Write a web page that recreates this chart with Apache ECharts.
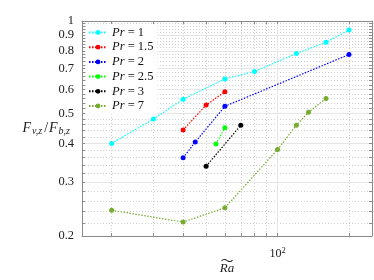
<!DOCTYPE html>
<html>
<head>
<meta charset="utf-8">
<script src="https://cdn.jsdelivr.net/npm/echarts@6/dist/echarts.min.js"></script>
<style>html,body{margin:0;padding:0;background:#fff}#c{width:374px;height:280px}</style>
</head>
<body>
<div id="c"></div>
<script>
// ---- data ----
var raPr1  = [20, 30, 40, 60, 80, 120, 160, 200];
var valPr1 = [0.400, 0.480, 0.557, 0.648, 0.685, 0.784, 0.853, 0.934];
var raPr15  = [40, 50, 60];
var valPr15 = [0.442, 0.533, 0.589];
var raPr2  = [40, 45, 60, 200];
var valPr2 = [0.359, 0.404, 0.528, 0.778];
var raPr25  = [55, 60];
var valPr25 = [0.398, 0.450];
var raPr3  = [50, 70];
var valPr3 = [0.337, 0.458];
var raPr7  = [20, 40, 60, 100, 120, 135, 160];
var valPr7 = [0.2425, 0.222, 0.247, 0.382, 0.458, 0.505, 0.560];

var seriesNames = ['Pr = 1', 'Pr = 1.5', 'Pr = 2', 'Pr = 2.5', 'Pr = 3', 'Pr = 7'];
var seriesColors = ['#00ffff', '#ff0000', '#0000ff', '#00ff00', '#000000', '#77ac30'];

// tick values
var xTickVals = [20, 30, 40, 50, 60, 70, 80, 90, 100, 200];
var xLabelVals = [100];
var yLabelVals = [0.2, 0.3, 0.4, 0.5, 0.6, 0.7, 0.8, 0.9, 1];
var yMajorGrid = [0.3, 0.4, 0.5, 0.6, 0.7, 0.8, 0.9];
var yTickVals = [0.2, 0.22, 0.24, 0.26, 0.28, 0.3, 0.32, 0.34, 0.36, 0.38, 0.4,
  0.42, 0.44, 0.46, 0.48, 0.5, 0.52, 0.54, 0.56, 0.58, 0.6, 0.62, 0.64, 0.66, 0.68, 0.7,
  0.72, 0.74, 0.76, 0.78, 0.8, 0.82, 0.84, 0.86, 0.88, 0.9, 0.92, 0.94, 0.96, 0.98, 1];

var xs = [raPr1, raPr15, raPr2, raPr25, raPr3, raPr7];
var ys = [valPr1, valPr15, valPr2, valPr25, valPr3, valPr7];

var SERIF = '"Liberation Serif", "DejaVu Serif", serif';
var axisCol = '#8a8a8a';
var dotGrid = { show: true, lineStyle: { color: '#cfcfcf', width: 1, type: [1, 2] } };

var series = seriesNames.map(function (n, i) {
  return {
    name: n, type: 'line', xAxisIndex: 0, yAxisIndex: 0,
    data: xs[i].map(function (x, j) { return [x, ys[i][j]]; }),
    symbol: 'circle', symbolSize: 5,
    itemStyle: { color: seriesColors[i] },
    lineStyle: { color: seriesColors[i], width: 1.2, type: [1.5, 1.5] },
    emphasis: { disabled: true }, animation: false
  };
});

var baseX = { type: 'log', logBase: 10, min: 15, max: 250, gridIndex: 0, nameMoveOverlap: false };
var baseY = { type: 'log', logBase: 10, min: 0.2, max: 1, gridIndex: 0, nameMoveOverlap: false };

var option = {
  backgroundColor: '#fff',
  animation: false,
  grid: { left: 82, right: 2, top: 21, bottom: 40, containLabel: false },
  legend: {
    left: 86, top: 24, orient: 'vertical',
    padding: [2, 4, 2, 2], backgroundColor: '#fff',
    itemWidth: 18, itemHeight: 6, itemGap: 1.7,
    data: seriesNames,
    formatter: function (n) { return '{i|Pr}' + n.slice(2); },
    textStyle: { fontFamily: SERIF, fontSize: 12.5, lineHeight: 12, color: '#111',
      rich: { i: { fontFamily: SERIF, fontStyle: 'italic', fontSize: 12.5, color: '#111' } } }
  },
  xAxis: [
    Object.assign({}, baseX, {
      position: 'bottom',
      axisLine: { show: true, onZero: false, lineStyle: { color: axisCol, width: 1 } },
      axisTick: { show: true, inside: true, length: 3, customValues: xTickVals, lineStyle: { color: axisCol } },
      axisLabel: { show: true, customValues: xLabelVals, margin: 10,
        formatter: function () { return '{b|10}{s|2}'; },
        rich: { b: { fontFamily: SERIF, fontSize: 12, color: '#222', lineHeight: 14, verticalAlign: 'bottom' },
                s: { fontFamily: SERIF, fontSize: 8.5, color: '#222', lineHeight: 14, verticalAlign: 'top' } } },
      splitLine: dotGrid,
      name: '{t|～}\n{r|Ra}', nameLocation: 'middle', nameGap: 22,
      nameTextStyle: { rich: {
        t: { fontFamily: '"Noto Sans CJK SC"', fontSize: 13, lineHeight: 4, color: '#222', align: 'center' },
        r: { fontFamily: SERIF, fontStyle: 'italic', fontSize: 13, lineHeight: 13, color: '#222', align: 'center' } } }
    }),
    Object.assign({}, baseX, {
      position: 'top',
      axisLine: { show: true, onZero: false, lineStyle: { color: axisCol, width: 1 } },
      axisTick: { show: true, inside: true, length: 3, customValues: xTickVals, lineStyle: { color: axisCol } },
      axisLabel: { show: false }, splitLine: { show: false }
    }),
    Object.assign({}, baseX, {
      position: 'bottom',
      axisLine: { show: false }, axisTick: { show: false, customValues: xLabelVals },
      axisLabel: { show: false },
      splitLine: { show: true, lineStyle: { color: '#e6e6e6', width: 1, type: 'solid' } }
    })
  ],
  yAxis: [
    Object.assign({}, baseY, {
      position: 'left',
      axisLine: { show: true, onZero: false, lineStyle: { color: axisCol, width: 1 } },
      axisTick: { show: true, inside: true, length: 3, customValues: yTickVals, lineStyle: { color: axisCol } },
      axisLabel: { show: true, customValues: yLabelVals, margin: 8,
        fontFamily: SERIF, fontSize: 12.5, color: '#222',
        formatter: function (v) { return String(+(+v).toFixed(2)); } },
      splitLine: dotGrid,
      name: '{f|F}{s|v,z}{n|/}{f|F}{s|b,z}', nameLocation: 'middle', nameRotate: 0, nameGap: 12,
      nameTextStyle: { align: 'right', rich: {
        f: { fontFamily: SERIF, fontStyle: 'italic', fontSize: 14, color: '#222', lineHeight: 16, verticalAlign: 'middle' },
        n: { fontFamily: SERIF, fontSize: 14, color: '#222', lineHeight: 16, verticalAlign: 'middle', padding: [0, 1, 0, 2] },
        s: { fontFamily: SERIF, fontStyle: 'italic', fontSize: 10, color: '#222', lineHeight: 16, verticalAlign: 'bottom', padding: [0, 0, 0, 1] } } }
    }),
    Object.assign({}, baseY, {
      position: 'right',
      axisLine: { show: true, onZero: false, lineStyle: { color: axisCol, width: 1 } },
      axisTick: { show: true, inside: true, length: 3, customValues: yTickVals, lineStyle: { color: axisCol } },
      axisLabel: { show: false }, splitLine: { show: false }
    }),
    Object.assign({}, baseY, {
      position: 'left',
      axisLine: { show: false }, axisTick: { show: false, customValues: yMajorGrid },
      axisLabel: { show: false },
      splitLine: { show: true, lineStyle: { color: '#e6e6e6', width: 1, type: 'solid' } }
    })
  ],
  series: series
};

var chart = echarts.init(document.getElementById('c'), null, { renderer: 'canvas' });
chart.setOption(option);
</script>
</body>
</html>
